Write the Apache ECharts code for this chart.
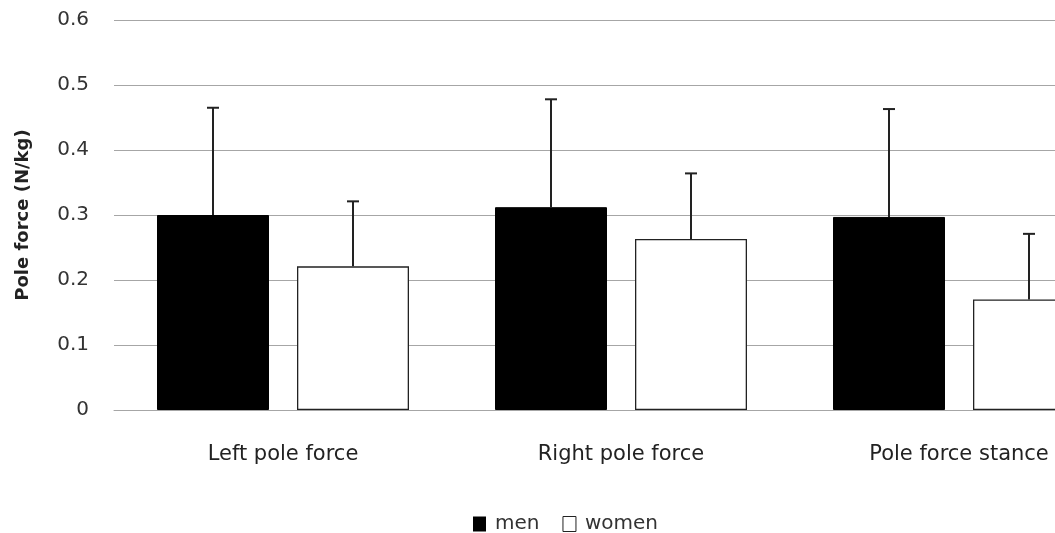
<!DOCTYPE html>
<html><head><meta charset="utf-8">
<script src="https://cdn.jsdelivr.net/npm/echarts@6/dist/echarts.min.js"></script>
<style>html,body{margin:0;padding:0;background:#fff;overflow:hidden;width:1055px;height:533px}#c{width:1128px;height:533px}</style>
</head><body><div id="c"></div>
<script>
const categories = ['Left pole force', 'Right pole force', 'Pole force stance'];
const menValues = [0.300, 0.312, 0.297];
const menSD = [0.165, 0.166, 0.166];
const womenValues = [0.221, 0.263, 0.170];
const womenSD = [0.100, 0.101, 0.101];
const yTicks = [0, 0.1, 0.2, 0.3, 0.4, 0.5, 0.6];

const FONT = 'DejaVu Sans';
const BAR_W = 112, BAR_GAP_PX = 28;
const OFFSET = (BAR_W + BAR_GAP_PX) / 2;

function errSeries(name, vals, sds, dir) {
  return {
    type: 'custom', name: name + ' sd', silent: true, z: 5,
    data: vals.map((v, i) => [i, v, v + sds[i]]),
    renderItem: function (params, api) {
      const lo = api.coord([api.value(0), api.value(1)]);
      const hi = api.coord([api.value(0), api.value(2)]);
      const x = Math.round(lo[0] + dir * OFFSET);
      const st = { stroke: '#222', lineWidth: 2 };
      return { type: 'group', children: [
        { type: 'line', shape: { x1: x, y1: lo[1], x2: x, y2: hi[1] }, style: st },
        { type: 'line', shape: { x1: x - 6, y1: hi[1], x2: x + 6, y2: hi[1] }, style: st }
      ]};
    }
  };
}

const chart = echarts.init(document.getElementById('c'), null, { renderer: 'canvas' });
chart.setOption({
  animation: false,
  textStyle: { fontFamily: FONT },
  grid: { left: 114, top: 20, bottom: 123, right: 0, containLabel: false },
  legend: {
    top: 514, left: 473, padding: 0, itemWidth: 13, itemHeight: 15, itemGap: 23,
    textStyle: { fontFamily: FONT, fontSize: 20, color: '#333', padding: [0, 0, 0, 4] },
    data: [
      { name: 'men', icon: 'rect', itemStyle: { color: '#000', borderColor: '#000', borderWidth: 0 } },
      { name: 'women', icon: 'rect', itemStyle: { color: '#fff', borderColor: '#222', borderWidth: 1 } }
    ]
  },
  xAxis: {
    type: 'category', data: categories,
    axisLine: { show: true, lineStyle: { color: '#a6a6a6', width: 1 } },
    axisTick: { show: false },
    axisLabel: { fontFamily: FONT, fontSize: 21, color: '#222', margin: 34 }
  },
  yAxis: {
    type: 'value', min: 0, max: 0.6, interval: 0.1,
    name: 'Pole force (N/kg)', nameLocation: 'middle', nameGap: 82,
    nameTextStyle: { fontFamily: FONT, fontSize: 18, fontWeight: 'bold', color: '#222' },
    axisLine: { show: false }, axisTick: { show: false },
    axisLabel: { fontFamily: FONT, fontSize: 20, color: '#333', margin: 25,
      formatter: v => { const t = yTicks.find(k => Math.abs(k - v) < 1e-9); return t === 0 ? '0' : String(t); } },
    splitLine: { lineStyle: { color: '#a6a6a6', width: 1 } }
  },
  series: [
    { name: 'men', type: 'bar', data: menValues, barWidth: BAR_W, barGap: '25%',
      itemStyle: { color: '#000', borderColor: '#000', borderWidth: 1 } },
    { name: 'women', type: 'bar', data: womenValues, barWidth: BAR_W,
      itemStyle: { color: '#fff', borderColor: '#222', borderWidth: 1.3 } },
    errSeries('men', menValues, menSD, -1),
    errSeries('women', womenValues, womenSD, 1)
  ]
});
</script></body></html>
